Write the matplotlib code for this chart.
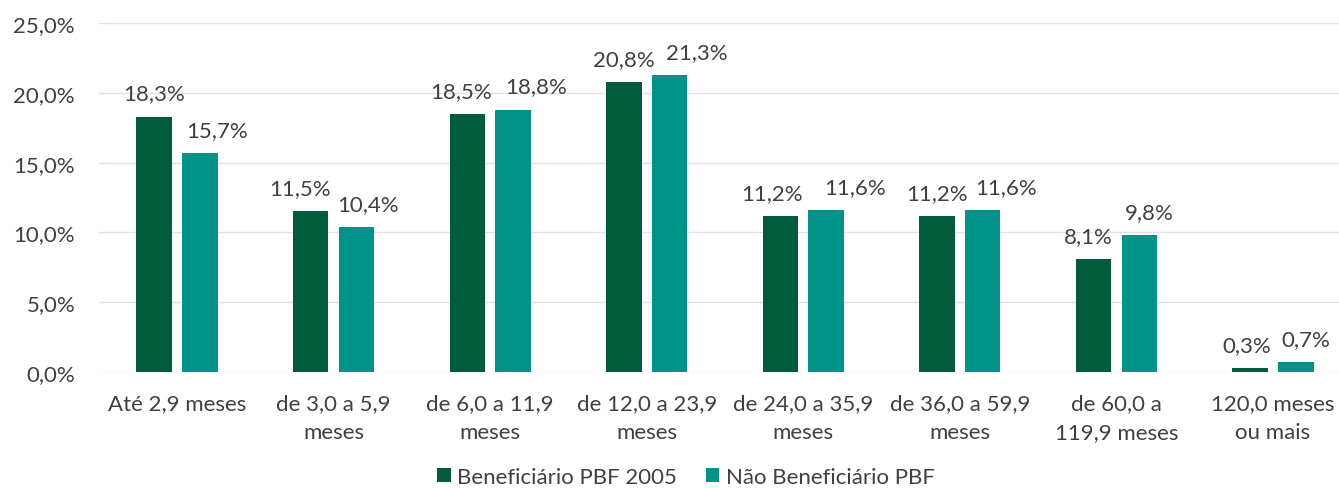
import numpy as np
import matplotlib.pyplot as plt

plt.rcParams['font.family'] = ['Lato', 'DejaVu Sans']

categorias = ['Até 2,9 meses', 'de 3,0 a 5,9\nmeses', 'de 6,0 a 11,9\nmeses',
              'de 12,0 a 23,9\nmeses', 'de 24,0 a 35,9\nmeses', 'de 36,0 a 59,9\nmeses',
              'de 60,0 a\n119,9 meses', '120,0 meses\nou mais']
beneficiario = [18.3, 11.5, 18.5, 20.8, 11.2, 11.2, 8.1, 0.3]
nao_beneficiario = [15.7, 10.4, 18.8, 21.3, 11.6, 11.6, 9.8, 0.7]

# deslocamento horizontal dos rótulos (pixels), como no gráfico original
desloc1 = [0, -11, -6, 0, -8, 0, -5, -3]
desloc2 = [17, 12, 23, 27, 29, 23, 10, 10]

cor1 = '#005C3B'
cor2 = '#00938A'
texto = '#404040'
fs = 16

fig = plt.figure(figsize=(13.39, 4.89), dpi=100)
ax = fig.add_axes([0.0737, 0.2372, 0.9355, 0.7137])

x = np.arange(len(categorias))
w = 0.226
b1 = ax.bar(x - 0.146, beneficiario, w, color=cor1, label='Beneficiário PBF 2005', zorder=3)
b2 = ax.bar(x + 0.146, nao_beneficiario, w, color=cor2, label='Não Beneficiário PBF', zorder=3)

def fmt(v):
    return ('%.1f%%' % v).replace('.', ',')

for barras, vals, desl in ((b1, beneficiario, desloc1), (b2, nao_beneficiario, desloc2)):
    for r, v, d in zip(barras, vals, desl):
        ax.annotate(fmt(v), (r.get_x() + r.get_width() / 2, v),
                    xytext=(d * 0.72, 17 * 0.72),
                    textcoords='offset points', ha='center', va='baseline',
                    fontsize=fs, color=texto)

ax.set_xlim(-0.5, len(categorias) - 0.5)
ax.set_ylim(0, 25)
ax.set_yticks(np.arange(0, 26, 5))
ax.set_yticklabels([fmt(v) for v in np.arange(0, 26, 5)])
ax.set_xticks(x)
ax.set_xticklabels(categorias, linespacing=1.55)
ax.tick_params(axis='both', length=0, labelsize=fs, labelcolor=texto)
ax.tick_params(axis='x', pad=15)
ax.tick_params(axis='y', pad=17)
ax.grid(axis='y', color='#E8DDF0', linewidth=1, zorder=0)
for s in ax.spines.values():
    s.set_visible(False)

ax.legend(loc='lower center', bbox_to_anchor=(0.469, -0.355), ncol=2, frameon=False,
          fontsize=fs, labelcolor=texto, handlelength=0.6, handleheight=0.6,
          handletextpad=0.3, columnspacing=1.3, borderaxespad=0)

fig.savefig('out.png', dpi=100)
